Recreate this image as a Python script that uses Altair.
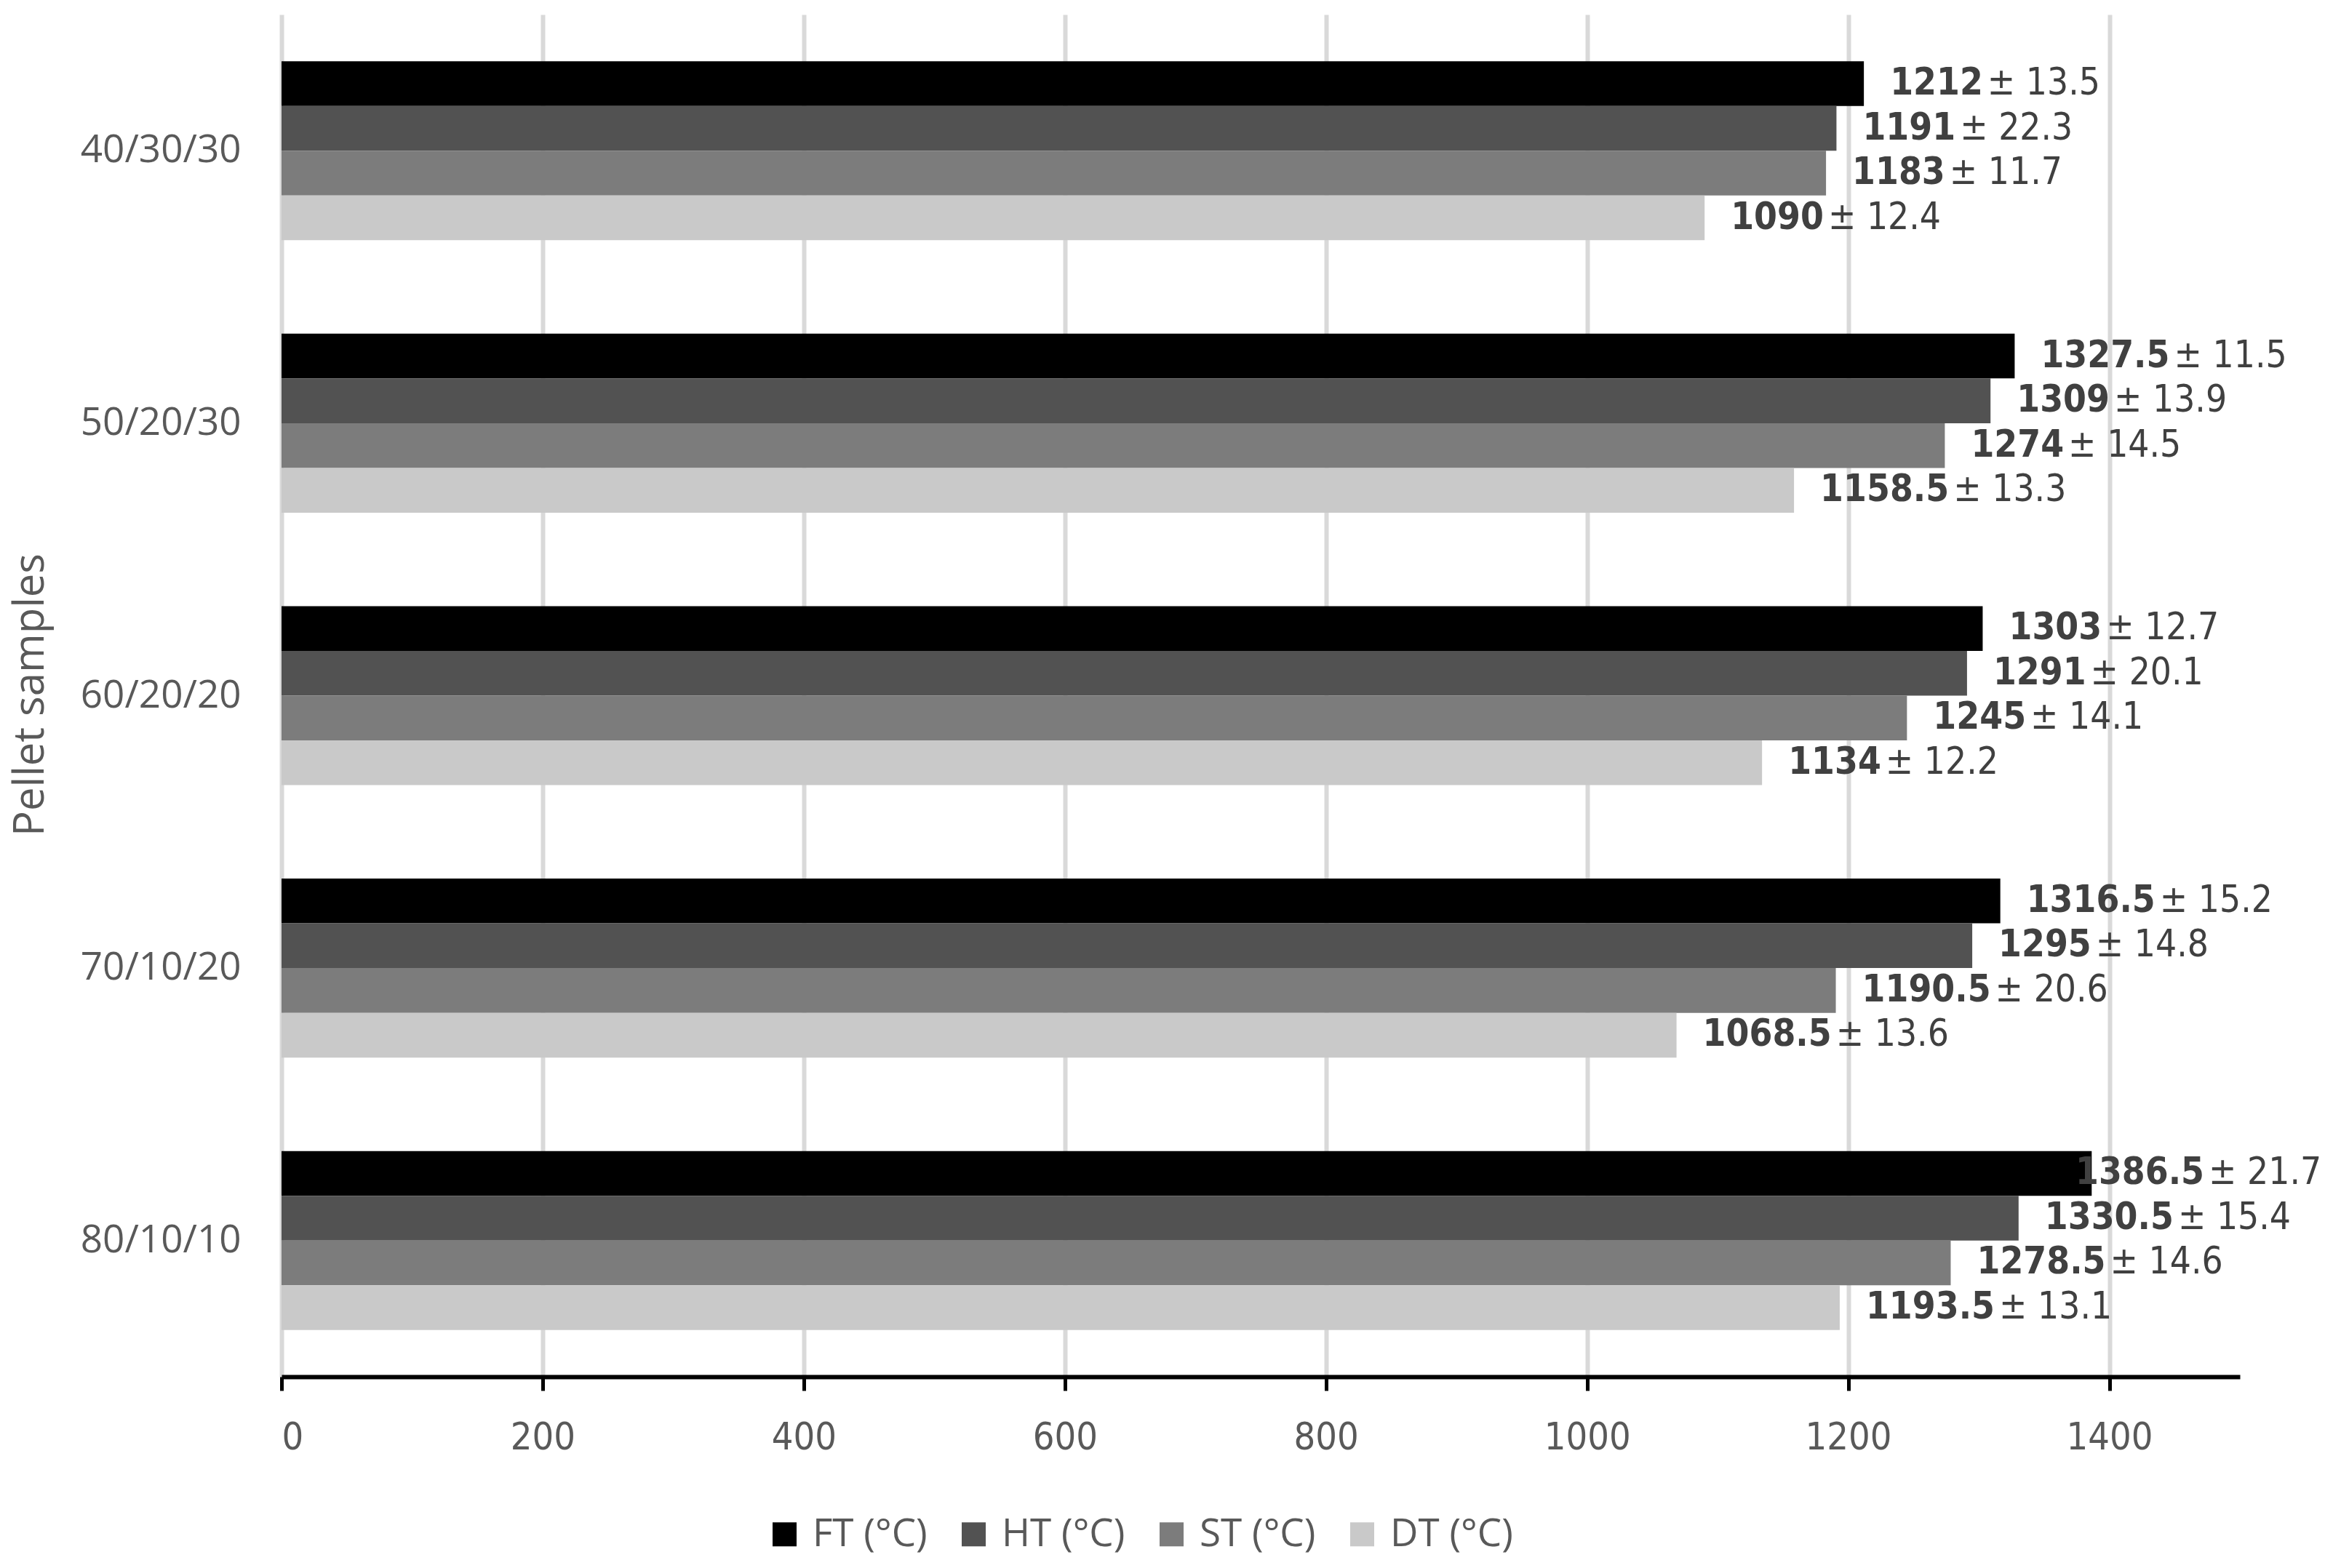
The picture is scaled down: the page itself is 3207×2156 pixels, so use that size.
import altair as alt
import pandas as pd

samples = ["40/30/30", "50/20/30", "60/20/20", "70/10/20", "80/10/10"]
series = ["FT (°C)", "HT (°C)", "ST (°C)", "DT (°C)"]
colors = ["#000000", "#525252", "#7c7c7c", "#c9c9c9"]

ft = [1212, 1327.5, 1303, 1316.5, 1386.5]
ft_sd = [13.5, 11.5, 12.7, 15.2, 21.7]
ht = [1191, 1309, 1291, 1295, 1330.5]
ht_sd = [22.3, 13.9, 20.1, 14.8, 15.4]
st = [1183, 1274, 1245, 1190.5, 1278.5]
st_sd = [11.7, 14.5, 14.1, 20.6, 14.6]
dt = [1090, 1158.5, 1134, 1068.5, 1193.5]
dt_sd = [12.4, 13.3, 12.2, 13.6, 13.1]

x_ticks = [0, 200, 400, 600, 800, 1000, 1200, 1400]

rows = []
for name, vals, sds in zip(series, [ft, ht, st, dt], [ft_sd, ht_sd, st_sd, dt_sd]):
    for s, v, e in zip(samples, vals, sds):
        rows.append({"sample": s, "series": name, "value": v,
                     "vtext": f"{v:g}", "sdtext": f"± {e:g}"})
df = pd.DataFrame(rows)

W, H = 2692, 1873
LS = 51  # label font size
PXU = W / 1500.0

NUM_FONT = "DejaVu Sans Condensed, DejaVu Sans, sans-serif"
TXT_FONT = "Open Sans, Liberation Sans, sans-serif"

x_scale = alt.Scale(domain=[0, 1500], nice=False, zero=True)
x_axis = alt.Axis(values=x_ticks, title=None, grid=True, gridColor="#d9d9d9",
                  gridWidth=6, domainColor="#000000", domainWidth=6,
                  tickColor="#000000", tickWidth=5, tickSize=19, format="d",
                  labelFont=NUM_FONT, labelFontSize=52, labelColor="#595959",
                  labelPadding=39)
y_enc = alt.Y("sample:N", sort=samples,
              scale=alt.Scale(domain=samples, paddingInner=0.343, paddingOuter=0.1715),
              axis=alt.Axis(title="Pellet samples", ticks=False, domain=False, grid=False,
                            labelFont=TXT_FONT, labelFontSize=53, labelColor="#595959",
                            labelPadding=56, labelLimit=0, titleFont=TXT_FONT, titleFontSize=58,
                            titleFontWeight="normal", titleColor="#595959",
                            titleAngle=270, titleX=-345, titleY=935,
                            titleAlign="center", titleBaseline="middle"))
yoff_enc = alt.YOffset("series:N", sort=series,
                       scale=alt.Scale(domain=series, paddingInner=0, paddingOuter=0))

base = alt.Chart(df).transform_calculate(
    labelx="min(datum.value, 1354)",
    boldw=f"(length(replace(datum.vtext, '.', '')) * 0.626 + (indexof(datum.vtext, '.') >= 0 ? 0.342 : 0)) * {LS}",
).transform_calculate(
    sdx=f"datum.labelx + (datum.boldw + 6) / {PXU}"
)

bars = base.mark_bar().encode(
    x=alt.X("value:Q", scale=x_scale, axis=x_axis),
    y=y_enc,
    yOffset=yoff_enc,
    color=alt.Color("series:N", sort=series,
                    scale=alt.Scale(domain=series, range=colors),
                    legend=alt.Legend(title=None, orient="none", direction="horizontal",
                                      legendX=665, legendY=2063,
                                      symbolType="square", symbolSize=1089,
                                      symbolStrokeWidth=0, labelFont=TXT_FONT,
                                      labelFontSize=53, labelColor="#595959", labelLimit=0,
                                      labelOffset=12, columnPadding=37, padding=0)),
)

bold_lbl = base.mark_text(align="left", baseline="middle", dx=36, font=NUM_FONT,
                          fontSize=LS, fontWeight="bold", color="#404040").encode(
    x=alt.X("labelx:Q", scale=x_scale, axis=x_axis),
    y=y_enc,
    yOffset=yoff_enc,
    text="vtext:N",
)

sd_lbl = base.mark_text(align="left", baseline="middle", dx=36, font=NUM_FONT,
                        fontSize=LS, fontWeight="normal", color="#404040").encode(
    x=alt.X("sdx:Q", scale=x_scale, axis=x_axis),
    y=y_enc,
    yOffset=yoff_enc,
    text="sdtext:N",
)

chart = alt.layer(bars, bold_lbl, sd_lbl).properties(
    width=W, height=H,
    autosize="none",
    padding={"left": 379, "top": 12, "right": 120, "bottom": 255},
).configure(background="#ffffff", view=alt.ViewConfig(stroke=None))

chart.save("out.html", embed_options={"renderer": "svg", "actions": False})
